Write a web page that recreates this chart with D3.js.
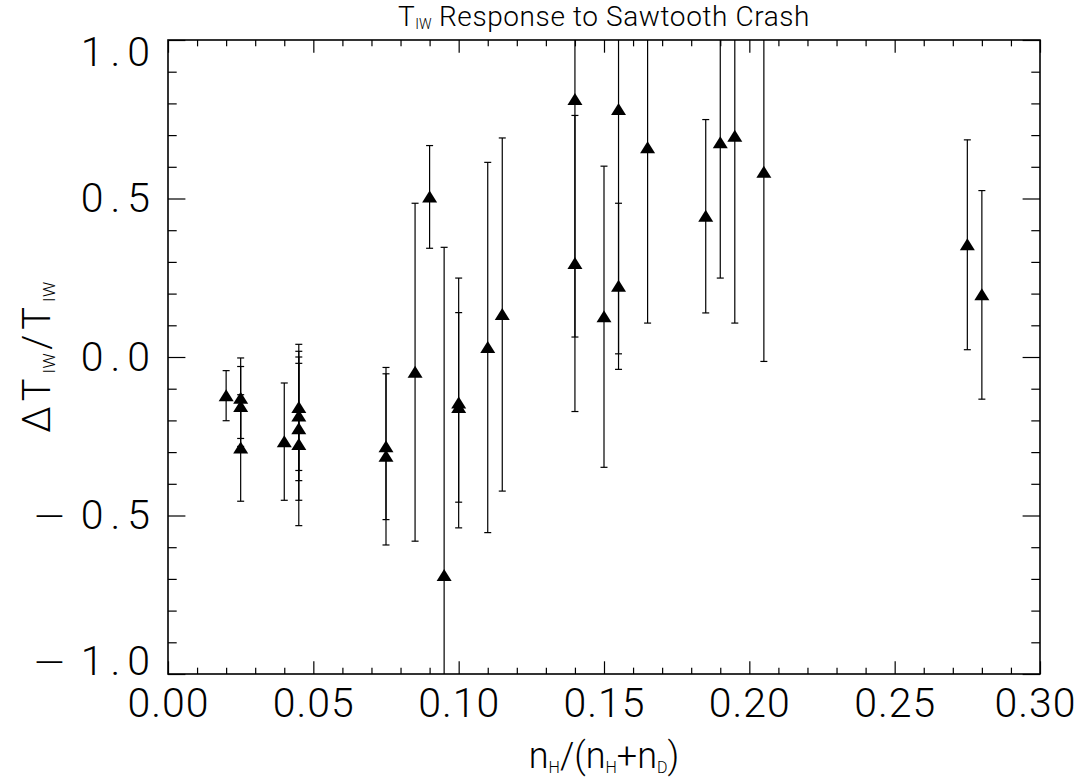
<!DOCTYPE html>
<html><head><meta charset="utf-8">
<script src="https://cdn.jsdelivr.net/npm/d3@7"></script>
<style>
body{margin:0;background:#fff;}
text{font-family:Roboto,"DejaVu Sans",sans-serif;font-weight:300;fill:#000;}
</style>
</head><body><svg id="c" width="1084" height="784"></svg>
<script>
// ---- data ----
const xValues = [0.02, 0.025, 0.025, 0.025, 0.04, 0.045, 0.045, 0.045, 0.045,
  0.075, 0.075, 0.085, 0.09, 0.095, 0.10, 0.10, 0.11, 0.115,
  0.14, 0.14, 0.15, 0.155, 0.155, 0.165, 0.185, 0.19, 0.195, 0.205, 0.275, 0.28];
const yValues = [-0.122, -0.130, -0.156, -0.287, -0.267, -0.159, -0.186, -0.226, -0.276,
  -0.283, -0.313, -0.048, 0.505, -0.689, -0.145, -0.159, 0.030, 0.134,
  0.295, 0.812, 0.127, 0.223, 0.781, 0.660, 0.444, 0.676, 0.696, 0.583, 0.354, 0.196];
const yErrors = [0.079, 0.127, 0.126, 0.168, 0.185, 0.199, 0.204, 0.226, 0.256,
  0.230, 0.280, 0.533, 0.162, 1.035, 0.394, 0.299, 0.584, 0.557,
  0.467, 0.749, 0.475, 0.262, 0.771, 0.553, 0.305, 0.427, 0.589, 0.597, 0.331, 0.329];
const xTickValues = [0, 0.05, 0.10, 0.15, 0.20, 0.25, 0.30];
const xTickLabels = ["0.00", "0.05", "0.10", "0.15", "0.20", "0.25", "0.30"];
const xMinorTicks = [0.01,0.02,0.03,0.04,0.06,0.07,0.08,0.09,0.11,0.12,0.13,0.14,0.16,0.17,0.18,0.19,0.21,0.22,0.23,0.24,0.26,0.27,0.28,0.29];
const yTickValues = [-1.0, -0.5, 0.0, 0.5, 1.0];
const yTickLabels = ["\u22121.0", "\u22120.5", "0.0", "0.5", "1.0"];
const yMinorTicks = [-0.9,-0.8,-0.7,-0.6,-0.4,-0.3,-0.2,-0.1,0.1,0.2,0.3,0.4,0.6,0.7,0.8,0.9];

const points = xValues.map((v, i) => ({x: v, y: yValues[i], e: yErrors[i]}));

// ---- layout ----
const W = 1084, H = 784;
const L = 168, R = 1040, T = 40, B = 674;
const x = d3.scaleLinear().domain([0, 0.30]).range([L, R]);
const y = d3.scaleLinear().domain([-1, 1]).range([B, T]);
const xTickLen = 12.7, yTickLen = 17.4;

const svg = d3.select("#c");
svg.append("rect").attr("width", W).attr("height", H).attr("fill", "#fff");
svg.append("defs").append("clipPath").attr("id", "clip")
  .append("rect").attr("x", L).attr("y", T).attr("width", R - L).attr("height", B - T);

function styleAxis(g) {
  g.select(".domain").remove();
  g.selectAll(".tick line").attr("stroke", "#000").attr("stroke-width", 1.2);
}

// major ticks with labels
svg.append("g").attr("transform", `translate(0,${B})`)
  .call(d3.axisBottom(x).tickValues(xTickValues).tickSize(-xTickLen).tickSizeOuter(0)
    .tickPadding(14).tickFormat((d, i) => xTickLabels[i]))
  .call(styleAxis)
  .call(g => g.selectAll("text").attr("font-size", 41).attr("font-family", null)
    .attr("letter-spacing", 1)
    .attr("dx", d => d === 0.30 ? -5 : 0));
svg.append("g").attr("transform", `translate(${L},0)`)
  .call(d3.axisLeft(y).tickValues(yTickValues).tickSize(-yTickLen).tickSizeOuter(0)
    .tickPadding(11).tickFormat((d, i) => yTickLabels[i]))
  .call(styleAxis)
  .call(g => g.selectAll("text").attr("font-size", 41).attr("font-family", null)
    .attr("letter-spacing", 7)
    .attr("y", d => d === 1 ? 12 : (d === -1 ? -13 : 0))
    .each(function() {
      const t = d3.select(this), s = t.text();
      if (s.startsWith("\u2212")) {
        t.text(null);
        t.append("tspan").attr("font-family", "'DejaVu Sans'").attr("font-weight", 200)
          .attr("letter-spacing", 14).text("\u2212");
        t.append("tspan").text(s.slice(1));
      }
    }));
// mirrored ticks
svg.append("g").attr("transform", `translate(0,${T})`)
  .call(d3.axisTop(x).tickValues(xTickValues).tickSize(-xTickLen).tickSizeOuter(0).tickFormat(""))
  .call(styleAxis);
svg.append("g").attr("transform", `translate(${R},0)`)
  .call(d3.axisRight(y).tickValues(yTickValues).tickSize(-yTickLen).tickSizeOuter(0).tickFormat(""))
  .call(styleAxis);
// minor ticks
svg.append("g").attr("transform", `translate(0,${B})`)
  .call(d3.axisBottom(x).tickValues(xMinorTicks).tickSize(-xTickLen / 2).tickSizeOuter(0).tickFormat(""))
  .call(styleAxis);
svg.append("g").attr("transform", `translate(0,${T})`)
  .call(d3.axisTop(x).tickValues(xMinorTicks).tickSize(-xTickLen / 2).tickSizeOuter(0).tickFormat(""))
  .call(styleAxis);
svg.append("g").attr("transform", `translate(${L},0)`)
  .call(d3.axisLeft(y).tickValues(yMinorTicks).tickSize(-yTickLen / 2).tickSizeOuter(0).tickFormat(""))
  .call(styleAxis);
svg.append("g").attr("transform", `translate(${R},0)`)
  .call(d3.axisRight(y).tickValues(yMinorTicks).tickSize(-yTickLen / 2).tickSizeOuter(0).tickFormat(""))
  .call(styleAxis);

// frame
svg.append("rect").attr("x", L).attr("y", T).attr("width", R - L).attr("height", B - T)
  .attr("fill", "none").attr("stroke", "#000").attr("stroke-width", 1.6);

// error bars
const eb = svg.append("g").attr("clip-path", "url(#clip)")
  .attr("stroke", "#000").attr("stroke-width", 1.2).attr("fill", "none");
const cap = 3.5;
eb.selectAll("line.v").data(points).join("line").attr("class", "v")
  .attr("x1", d => x(d.x)).attr("x2", d => x(d.x))
  .attr("y1", d => y(d.y - d.e)).attr("y2", d => y(d.y + d.e));
eb.selectAll("line.t").data(points).join("line").attr("class", "t")
  .attr("x1", d => x(d.x) - cap).attr("x2", d => x(d.x) + cap)
  .attr("y1", d => y(d.y + d.e)).attr("y2", d => y(d.y + d.e));
eb.selectAll("line.b").data(points).join("line").attr("class", "b")
  .attr("x1", d => x(d.x) - cap).attr("x2", d => x(d.x) + cap)
  .attr("y1", d => y(d.y - d.e)).attr("y2", d => y(d.y - d.e));

// triangle markers (centred at mid-height like IDL usersym)
const tri = {draw(ctx) { ctx.moveTo(0, -6.5); ctx.lineTo(7.5, 5.5); ctx.lineTo(-7.5, 5.5); ctx.closePath(); }};
svg.append("g").attr("clip-path", "url(#clip)")
  .selectAll("path").data(points).join("path")
  .attr("transform", d => `translate(${x(d.x)},${y(d.y)})`)
  .attr("d", d3.symbol().type(tri)())
  .attr("fill", "#000");

// title
const title = svg.append("text").attr("x", 604).attr("y", 26)
  .attr("text-anchor", "middle").attr("font-size", 28).attr("letter-spacing", 0.6);
title.append("tspan").text("T");
title.append("tspan").attr("font-size", 14).attr("dy", 3).attr("letter-spacing", 0).text("IW");
title.append("tspan").attr("dy", -3).text(" Response to Sawtooth Crash");

// x label
const xl = svg.append("text").attr("x", 604).attr("y", 768)
  .attr("text-anchor", "middle").attr("font-size", 36);
xl.append("tspan").text("n");
xl.append("tspan").attr("font-size", 16).attr("dy", 5).text("H");
xl.append("tspan").attr("dy", -5).text("/(n");
xl.append("tspan").attr("font-size", 16).attr("dy", 5).text("H");
xl.append("tspan").attr("dy", -5).text("+n");
xl.append("tspan").attr("font-size", 16).attr("dy", 5).text("D");
xl.append("tspan").attr("dy", -5).text(")");

// y label
const yl = svg.append("text").attr("transform", `translate(50,${(T + B) / 2}) rotate(-90)`)
  .attr("text-anchor", "middle").attr("font-size", 38);
yl.append("tspan").attr("letter-spacing", 5).text("\u0394T");
yl.append("tspan").attr("font-size", 17).attr("dy", 5).attr("letter-spacing", 0.5).text("IW");
yl.append("tspan").attr("dy", -5).attr("dx", 3).attr("letter-spacing", 5).text("/T");
yl.append("tspan").attr("font-size", 17).attr("dy", 5).attr("letter-spacing", 0.5).text("IW");
</script>
</body></html>
